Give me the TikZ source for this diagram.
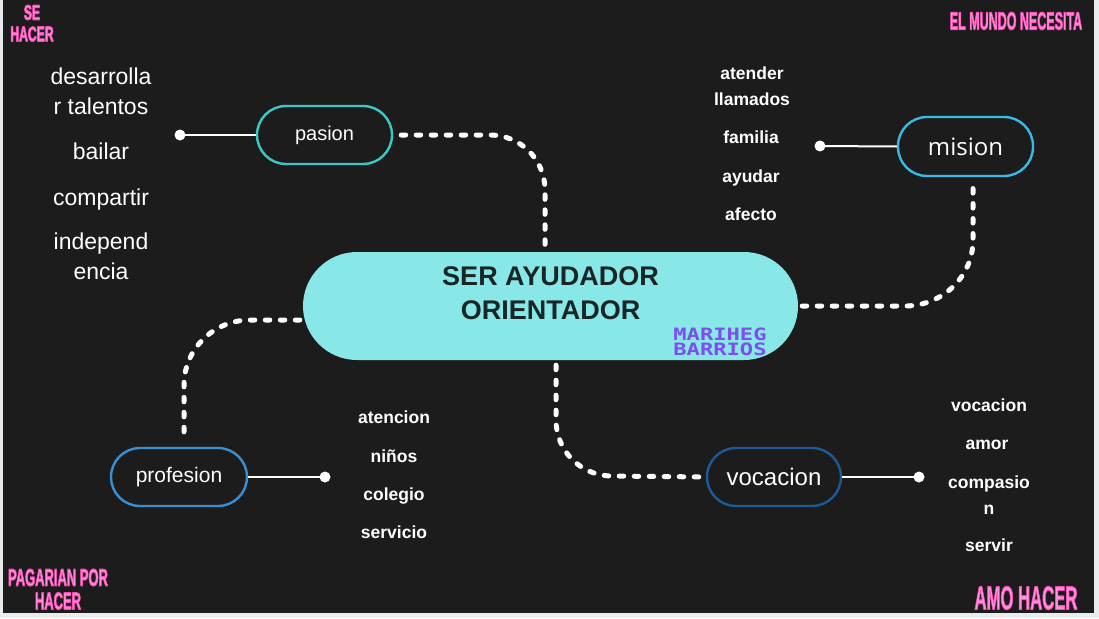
\documentclass[tikz,border=0pt]{standalone}
\usepackage{fontspec}
\setmainfont{Liberation Sans}
\newfontfamily\opensans{Open Sans}
\newfontfamily\pixfont{DejaVu Sans Mono}
\definecolor{bgdark}{HTML}{1C1C1C}
\definecolor{frame}{HTML}{E9ECEF}
\definecolor{centerfill}{HTML}{88E8E8}
\definecolor{centertext}{HTML}{1A2626}
\definecolor{cteal}{HTML}{3CC9C6}
\definecolor{cmision}{HTML}{3BB9E3}
\definecolor{cprof}{HTML}{3A8FD3}
\definecolor{cvoc}{HTML}{1D5B98}
\definecolor{cpurple}{HTML}{7C4EF0}
\definecolor{pinktext}{HTML}{FF94E2}
\newcommand{\glowon}{\special{pdf:literal direct 1 0.3 0.7 RG 1.2 w 1 j 2 Tr}}
\newcommand{\glowoff}{\special{pdf:literal direct 0 Tr}}
\newcommand{\neonlabel}[4]{% position, xscale, size, text
  \node[text=pinktext,font=\bfseries\fontsize{#3}{#3}\selectfont,xscale=#2,transform shape,inner sep=0.5pt] at (#1) {\glowon#4\glowoff};
}
\begin{document}
\begin{tikzpicture}[x=1pt,y=-1pt,
  pill/.style={draw=#1,line width=2.4pt,rounded corners=29pt,minimum width=135pt,minimum height=58pt,text=white,inner sep=0pt},
  dotline/.style={draw=white,line width=5pt,dash pattern=on 4.5pt off 10.5pt,line cap=round},
  solidline/.style={draw=white,line width=2pt},
  enddot/.style={fill=white},
  listbig/.style={text=white,font=\fontsize{23}{26}\selectfont,text height=16pt,text depth=4pt,inner sep=0pt},
  listsmall/.style={text=white,font=\bfseries\fontsize{17.5}{20}\selectfont,text height=13pt,text depth=3.5pt,inner sep=0pt}
]
\useasboundingbox (0,0) rectangle (1099,618);
\fill[frame] (0,0) rectangle (1099,618);
\fill[bgdark] (3,0) rectangle (1094,613);

% center
\node[fill=centerfill,rounded corners=54pt,minimum width=495pt,minimum height=108pt,inner sep=0pt] (center) at (550.5,306) {};
\node[text=centertext,font=\bfseries\fontsize{27}{34}\selectfont,align=center] (title) at (550.5,293) {SER AYUDADOR\\ORIENTADOR};
\node[text=cpurple,font=\pixfont\bfseries\fontsize{17}{15}\selectfont,align=center,xscale=1.3,transform shape,inner sep=0pt] (sign) at (720,342) {MARIHEG\\BARRIOS};

% branch nodes
\node[pill=cteal,font=\fontsize{20}{24}\selectfont] (pasion) at (324.5,135) {pasion};
\node[pill=cmision,minimum height=59pt,font=\opensans\fontsize{24}{28}\selectfont] (mision) at (965.5,146.5) {mision};
\node[pill=cprof,minimum width=136pt,font=\fontsize{21}{24}\selectfont] (profesion) at (179,477) {profesion};
\node[pill=cvoc,minimum width=134pt,font=\fontsize{24}{28}\selectfont] (vocacion) at (774,477) {vocacion};

% end dots
\coordinate (pd) at (180,135);
\coordinate (md) at (820,146);
\coordinate (prd) at (325,477);
\coordinate (vd) at (919,477);
\draw[solidline] (pasion.west) -- (pd);
\draw[solidline] (mision.west) -- (md);
\draw[solidline] (profesion.east) -- (prd);
\draw[solidline] (vocacion.east) -- (vd);
\foreach \p in {pd,md,prd,vd} \fill[enddot] (\p) circle (5.5pt);

% dotted connectors
\draw[dotline,shorten <=8pt,shorten >=7pt] (pasion.east) -- (490,135) to[out=0,in=90] (545,190) -- ([xshift=-5.5pt]center.north);
\draw[dotline,shorten <=4pt,shorten >=7pt] (center.east) -- (905,306) to[out=0,in=-90] (973,240) -- ([xshift=7.5pt]mision.south);
\draw[dotline,shorten <=3pt,shorten >=7pt] ([yshift=-14pt]center.west) -- (250,320) to[out=180,in=90] (184,385) -- ([xshift=5pt]profesion.north);
\draw[dotline,shorten <=5pt,shorten >=7pt] ([xshift=5.5pt]center.south) -- (556,420) to[out=-90,in=180] (612,476) -- (vocacion.west);

% pasion list
\node[listbig] (p1) at (101,78) {desarrolla};
\node[listbig] (p2) at (101,108) {r talentos};
\node[listbig] (p3) at (101,153) {bailar};
\node[listbig] (p4) at (101,199) {compartir};
\node[listbig] (p5) at (101,243) {independ};
\node[listbig] (p6) at (101,273) {encia};

% mision list
\node[listsmall] (m1) at (752,75) {atender};
\node[listsmall] (m2) at (752,101) {llamados};
\node[listsmall] (m3) at (751,139) {familia};
\node[listsmall] (m4) at (751,178) {ayudar};
\node[listsmall] (m5) at (751,216) {afecto};

% profesion list
\node[listsmall] (r1) at (394,419) {atencion};
\node[listsmall] (r2) at (394,458) {niños};
\node[listsmall] (r3) at (394,496) {colegio};
\node[listsmall] (r4) at (394,534) {servicio};

% vocacion list
\node[listsmall] (v1) at (989,407) {vocacion};
\node[listsmall] (v2) at (987,445) {amor};
\node[listsmall] (v3) at (989,484) {compasio};
\node[listsmall] (v4) at (989,510) {n};
\node[listsmall] (v5) at (989,547) {servir};

% corner neon labels
\neonlabel{32,12.5}{0.58}{21}{SE}
\neonlabel{32,34}{0.58}{21}{HACER}
\neonlabel{1016,21}{0.5}{25}{EL MUNDO NECESITA}
\neonlabel{58,577.5}{0.54}{24}{PAGARIAN POR}
\neonlabel{58,601}{0.54}{24}{HACER}
\neonlabel{1026,598}{0.506}{33}{AMO HACER}
\end{tikzpicture}
\end{document}
